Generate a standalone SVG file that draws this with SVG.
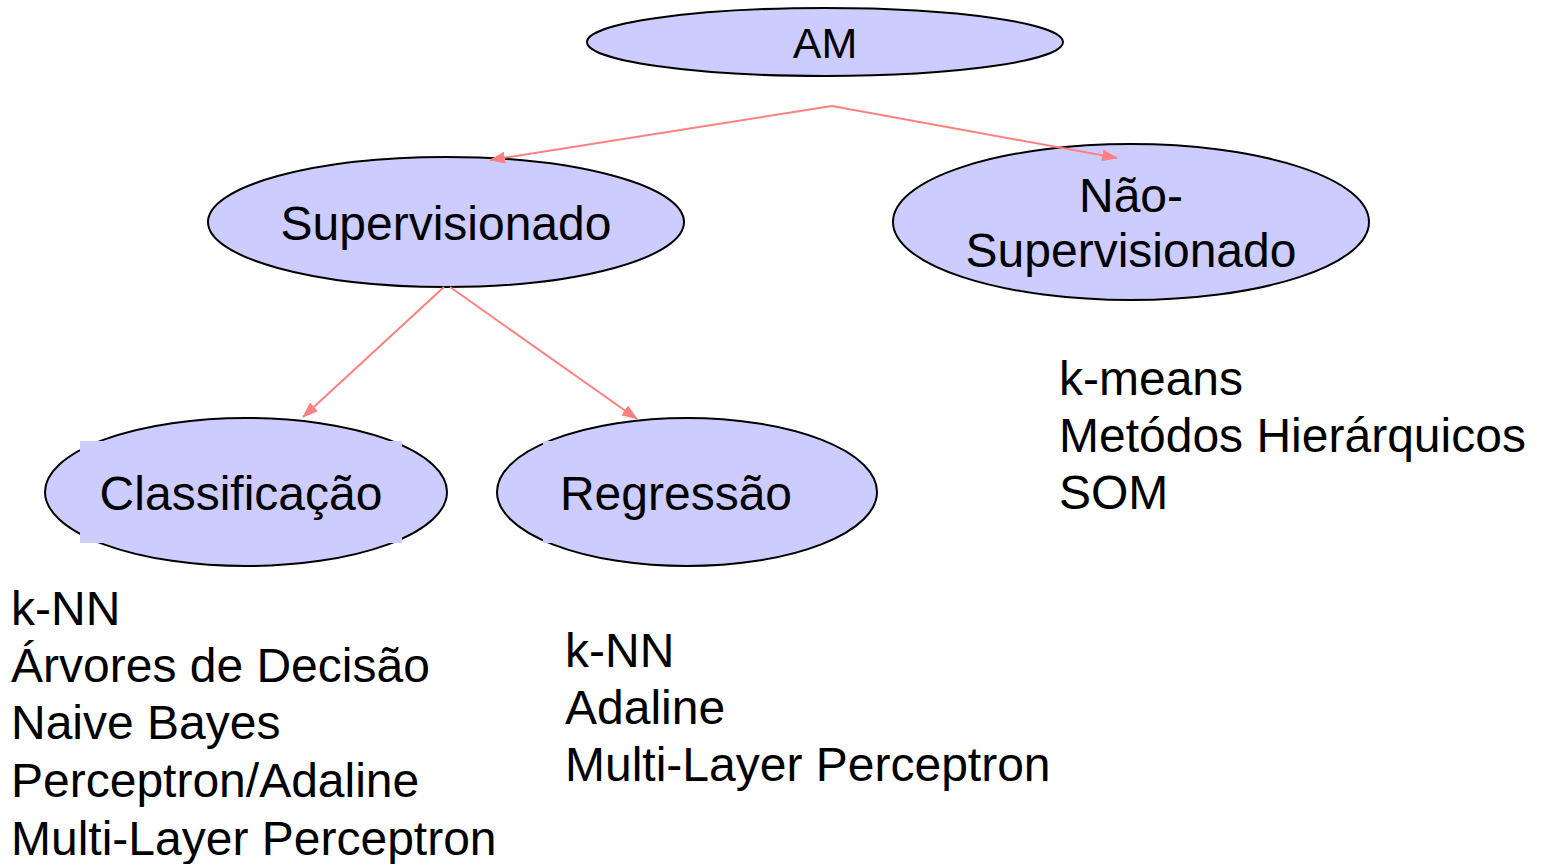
<svg xmlns="http://www.w3.org/2000/svg" width="1543" height="864" viewBox="0 0 1543 864">
<style>
.node{fill:#CCCCFF;stroke:#000;stroke-width:2}
.patch{fill:#CCCCFF;stroke:none}
.lbl{font-family:"Liberation Sans",Arial,sans-serif;font-size:48px;fill:#000;text-anchor:middle}
.lst{font-family:"Liberation Sans",Arial,sans-serif;font-size:48px;fill:#000}
.edge{stroke:#FF8080;stroke-width:2;fill:none;marker-end:url(#ah)}
</style>
<defs>
<marker id="ah" viewBox="0 0 16 12" refX="15" refY="6" markerWidth="16" markerHeight="12" markerUnits="userSpaceOnUse" orient="auto">
<path d="M0,0 L16,6 L0,12 z" fill="#FF8080"/>
</marker>
</defs>
<rect width="1543" height="864" fill="#fff"/>
<g id="am">
<ellipse class="node" cx="825" cy="42" rx="238" ry="34"/>
<text class="lbl" x="825" y="58" style="font-size:43px">AM</text>
</g>
<g id="supervisionado">
<ellipse class="node" cx="446" cy="222" rx="238" ry="65"/>
<text class="lbl" x="446" y="240">Supervisionado</text>
</g>
<g id="nao-supervisionado">
<ellipse class="node" cx="1131" cy="222" rx="238" ry="78"/>
<text class="lbl" x="1131" y="212">Não-</text>
<text class="lbl" x="1131" y="267">Supervisionado</text>
</g>
<g id="classificacao">
<ellipse class="node" cx="246" cy="492" rx="201" ry="74"/>
<rect class="patch" x="80" y="441" width="322" height="102"/>
<text class="lbl" x="241" y="510">Classificação</text>
</g>
<g id="regressao">
<ellipse class="node" cx="687" cy="492" rx="190" ry="74"/>
<rect class="patch" x="543" y="441" width="250" height="102"/>
<text class="lbl" x="676" y="510">Regressão</text>
</g>
<g id="connectors">
<path class="edge" d="M832,106 L490,160"/>
<path class="edge" d="M832,106 L1117,158"/>
<path class="edge" d="M444,287 L303,417"/>
<path class="edge" d="M450,287 L637,419"/>
</g>
<g id="lista-classificacao">
<text class="lst" x="11" y="625">k-NN</text>
<text class="lst" x="11" y="682">Árvores de Decisão</text>
<text class="lst" x="11" y="739">Naive Bayes</text>
<text class="lst" x="11" y="797">Perceptron/Adaline</text>
<text class="lst" x="11" y="855">Multi-Layer Perceptron</text>
</g>
<g id="lista-regressao">
<text class="lst" x="565" y="667">k-NN</text>
<text class="lst" x="565" y="724">Adaline</text>
<text class="lst" x="565" y="781">Multi-Layer Perceptron</text>
</g>
<g id="lista-nao-supervisionado">
<text class="lst" x="1059" y="395">k-means</text>
<text class="lst" x="1059" y="452">Metódos Hierárquicos</text>
<text class="lst" x="1059" y="509">SOM</text>
</g>
</svg>
